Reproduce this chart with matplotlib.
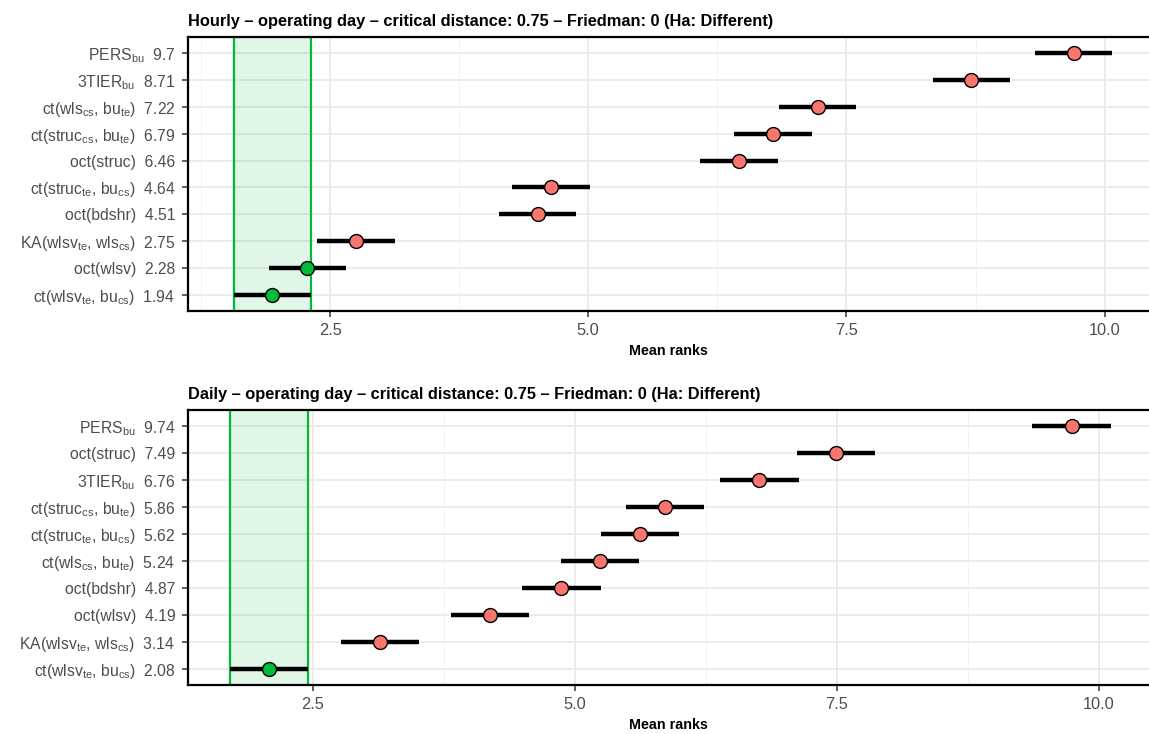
import matplotlib.pyplot as plt
import matplotlib.ticker as mticker

plt.rcParams['font.family'] = ['Liberation Sans', 'DejaVu Sans']
plt.rcParams['mathtext.fontset'] = 'custom'
plt.rcParams['mathtext.rm'] = 'Liberation Sans'
plt.rcParams['mathtext.default'] = 'regular'

# data, listed top row first
hourly_methods = [r'PERS$_{bu}$', r'3TIER$_{bu}$', r'ct(wls$_{cs}$, bu$_{te}$)',
                  r'ct(struc$_{cs}$, bu$_{te}$)', 'oct(struc)', r'ct(struc$_{te}$, bu$_{cs}$)',
                  'oct(bdshr)', r'KA(wlsv$_{te}$, wls$_{cs}$)', 'oct(wlsv)',
                  r'ct(wlsv$_{te}$, bu$_{cs}$)']
hourly_ranks = [9.7, 8.71, 7.22, 6.79, 6.46, 4.64, 4.51, 2.75, 2.28, 1.94]

daily_methods = [r'PERS$_{bu}$', 'oct(struc)', r'3TIER$_{bu}$', r'ct(struc$_{cs}$, bu$_{te}$)',
                 r'ct(struc$_{te}$, bu$_{cs}$)', r'ct(wls$_{cs}$, bu$_{te}$)', 'oct(bdshr)',
                 'oct(wlsv)', r'KA(wlsv$_{te}$, wls$_{cs}$)', r'ct(wlsv$_{te}$, bu$_{cs}$)']
daily_ranks = [9.74, 7.49, 6.76, 5.86, 5.62, 5.24, 4.87, 4.19, 3.14, 2.08]

panels = [
    ('Hourly', hourly_methods, hourly_ranks, 0.75, (1.124, 10.43), [0.1636, 0.5763, 0.8364, 0.3733]),
    ('Daily', daily_methods, daily_ranks, 0.75, (1.307, 10.477), [0.1636, 0.0668, 0.8364, 0.3747]),
]

RED = '#F8766D'
GREEN = '#00BA38'
GRID = '#EBEBEB'
TXT = '#4D4D4D'

fig = plt.figure(figsize=(11.49, 7.34), dpi=100)

for name, methods, ranks, cd, xlim, pos in panels:
    ax = fig.add_axes(pos)
    n = len(methods)
    ys = list(range(n, 0, -1))
    best = min(ranks)
    lo, hi = best - cd / 2, best + cd / 2

    ax.axvspan(lo, hi, color=GREEN, alpha=0.12, lw=0, zorder=1)
    ax.axvline(lo, color=GREEN, lw=1.6, zorder=2)
    ax.axvline(hi, color=GREEN, lw=1.6, zorder=2)

    for y, r in zip(ys, ranks):
        ax.plot([r - cd / 2, r + cd / 2], [y, y], color='black', lw=3.2, solid_capstyle='butt', zorder=3)
        c = GREEN if r <= hi else RED
        ax.plot(r, y, 'o', ms=10, mfc=c, mec='black', mew=1, zorder=4)

    ax.set_xlim(*xlim)
    ax.set_ylim(0.4, n + 0.6)
    ax.xaxis.set_major_locator(mticker.MultipleLocator(2.5))
    ax.xaxis.set_minor_locator(mticker.MultipleLocator(1.25))
    ax.xaxis.set_major_formatter(mticker.FormatStrFormatter('%.1f'))
    ax.set_yticks(ys)
    ax.set_yticklabels([f'{m}  {r:g}' for m, r in zip(methods, ranks)])

    ax.grid(True, which='major', color=GRID, lw=1.3, zorder=0)
    ax.grid(True, which='minor', axis='x', color='#F2F2F2', lw=0.7, zorder=0)
    ax.set_axisbelow(True)
    ax.tick_params(axis='both', which='major', labelcolor=TXT,
                   color='#333333', length=4, width=1.1, pad=5)
    ax.tick_params(axis='x', labelsize=11.8)
    ax.tick_params(axis='y', labelsize=11.3)
    ax.tick_params(axis='x', which='minor', length=0)
    for s in ['left', 'bottom', 'top']:
        ax.spines[s].set_linewidth(1.6)
        ax.spines[s].set_color('black')
    ax.spines['right'].set_visible(False)

    ax.set_xlabel('Mean ranks', fontsize=10.3, fontweight='bold', labelpad=4)
    ax.set_title(f'{name} \u2013 operating day \u2013 critical distance: {cd} \u2013 Friedman: 0 (Ha: Different)',
                 loc='left', fontsize=11.8, fontweight='bold', pad=8)

fig.savefig('out.png', dpi=100)
